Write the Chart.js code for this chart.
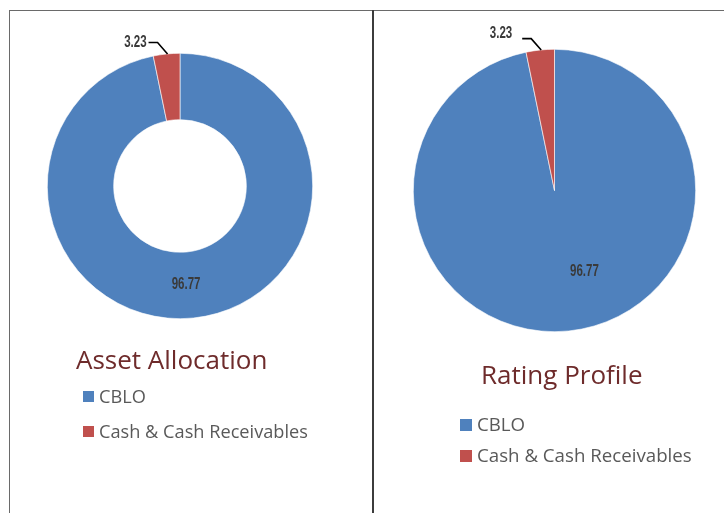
<!DOCTYPE html>
<html><head><meta charset="utf-8">
<script src="https://cdn.jsdelivr.net/npm/chart.js@4/dist/chart.umd.min.js"></script>
<style>
html,body{margin:0;padding:0;background:#fff;width:724px;height:513px;overflow:hidden;}
#frame{position:absolute;left:9px;top:10px;width:720px;height:510px;border-left:1px solid #6a6a6a;border-top:1px solid #6a6a6a;}
#divider{position:absolute;left:372px;top:10px;width:2px;height:503px;background:#3c3c3c;}
canvas{position:absolute;left:0;top:0;}
</style></head><body>
<div id="frame"></div><div id="divider"></div>
<canvas id="c1" width="724" height="513"></canvas>
<canvas id="c2" width="724" height="513"></canvas>
<script>
// ---- data ----
const categories = ["CBLO", "Cash & Cash Receivables"];
const assetAllocation = [96.77, 3.23];
const ratingProfile = [96.77, 3.23];
const seriesColors = ["#4F81BD", "#C0504D"];
const titles = ["Asset Allocation", "Rating Profile"];

const labelFont = "bold 16px 'Liberation Sans',Arial,sans-serif";
const textFont = "'Open Sans','Lato',sans-serif";

function overlayPlugin(cfg) {
  return {
    id: 'overlay',
    afterDatasetsDraw(chart) {
      const ctx = chart.ctx;
      const meta = chart.getDatasetMeta(0);
      const data = chart.data.datasets[0].data;
      ctx.save();
      meta.data.forEach((arc, i) => {
        const p = arc.getProps(['x','y','startAngle','endAngle','innerRadius','outerRadius'], true);
        const mid = (p.startAngle + p.endAngle) / 2;
        const txt = data[i].toFixed(2);
        ctx.font = labelFont;
        ctx.fillStyle = '#3a3a3a';
        if (i === 0) {
          const a = mid + cfg.bigAngleShift;
          const r = p.innerRadius + (p.outerRadius - p.innerRadius) * cfg.bigRadiusFrac;
          ctx.textAlign = 'center'; ctx.textBaseline = 'middle';
          ctx.save();
          ctx.translate(p.x + Math.cos(a) * r, p.y + Math.sin(a) * r);
          ctx.scale(0.72, 1);
          ctx.fillText(txt, 0, 0);
          ctx.restore();
        } else {
          const ex = p.x + Math.cos(mid) * p.outerRadius;
          const ey = p.y + Math.sin(mid) * p.outerRadius;
          const kx = ex - 9, ky = ey - cfg.elbowDy;
          const hx = kx - 9;
          ctx.strokeStyle = '#000'; ctx.lineWidth = 1.6;
          ctx.beginPath(); ctx.moveTo(ex + 1, ey); ctx.lineTo(kx, ky); ctx.lineTo(hx, ky); ctx.stroke();
          ctx.textAlign = 'right'; ctx.textBaseline = 'middle';
          ctx.save();
          ctx.translate(hx - cfg.labelGap, ky + cfg.labelDy);
          ctx.scale(0.72, 1);
          ctx.fillText(txt, 0, 0);
          ctx.restore();
        }
      });
      // title
      ctx.textAlign = 'left'; ctx.textBaseline = 'alphabetic';
      ctx.fillStyle = '#6E2B2B';
      ctx.font = "26px " + textFont;
      ctx.fillText(cfg.title, cfg.titleX, cfg.titleY);
      // legend
      ctx.font = cfg.legendSize + "px " + textFont;
      chart.data.labels.forEach((lab, i) => {
        const y = cfg.legendY + i * cfg.legendStep;
        ctx.fillStyle = seriesColors[i];
        ctx.fillRect(cfg.legendX, y - 12, cfg.sq, cfg.sq);
        ctx.fillStyle = '#595959';
        ctx.fillText(lab, cfg.legendX + cfg.sq + 5, y);
      });
      ctx.restore();
    }
  };
}

function makeChart(id, type, values, cutout, padding, cfg) {
  return new Chart(document.getElementById(id), {
    type: type,
    data: { labels: categories, datasets: [{ data: values, backgroundColor: seriesColors, borderColor: '#ffffff', borderWidth: 0.6 }] },
    options: {
      responsive: false, animation: false, cutout: cutout,
      layout: { padding: padding },
      plugins: { legend: { display: false }, tooltip: { enabled: false }, title: { display: false } },
      events: []
    },
    plugins: [overlayPlugin(cfg)]
  });
}

makeChart('c1', 'doughnut', assetAllocation, '50%',
  { left: 47, top: 53, right: 724 - 313, bottom: 513 - 319 },
  { title: titles[0], titleX: 76, titleY: 369, legendX: 83, legendY: 403, legendStep: 35, sq: 11, legendSize: 18.2,
    bigAngleShift: 0.04, bigRadiusFrac: 0.49, elbowDy: 11.5, labelGap: 2, labelDy: 0 });

makeChart('c2', 'pie', ratingProfile, 0,
  { left: 413, top: 49, right: 724 - 696, bottom: 513 - 332 },
  { title: titles[1], titleX: 481, titleY: 384, legendX: 460, legendY: 431, legendStep: 31, sq: 12, legendSize: 18.7,
    bigAngleShift: -0.253, bigRadiusFrac: 0.61, elbowDy: 11.4, labelGap: 10, labelDy: -5.5 });
</script>
</body></html>
